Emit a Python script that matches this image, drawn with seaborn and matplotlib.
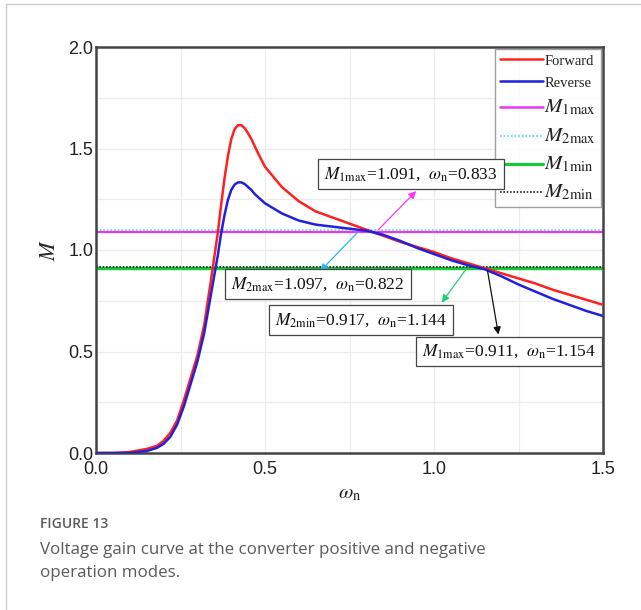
import numpy as np
import pandas as pd
import matplotlib
matplotlib.use("Agg")
import matplotlib.pyplot as plt
import seaborn as sns
from matplotlib.lines import Line2D

# ---------------- data ----------------
omega_fwd = [0.00, 0.05, 0.10, 0.15, 0.18, 0.20, 0.22, 0.24, 0.26, 0.28, 0.30, 0.32, 0.34,
             0.36, 0.37, 0.38, 0.39, 0.40, 0.41, 0.42, 0.43, 0.44, 0.45, 0.46, 0.47, 0.48,
             0.50, 0.55, 0.60, 0.65, 0.70, 0.75, 0.80, 0.85, 0.90, 0.95, 1.00, 1.05, 1.10,
             1.15, 1.20, 1.25, 1.30, 1.35, 1.40, 1.45, 1.50]
m_forward = [0.0, 0.0, 0.005, 0.02, 0.035, 0.06, 0.10, 0.16, 0.26, 0.37, 0.48, 0.63, 0.85,
             1.08, 1.22, 1.35, 1.46, 1.545, 1.595, 1.615, 1.615, 1.60, 1.575, 1.545, 1.51,
             1.475, 1.41, 1.31, 1.24, 1.19, 1.16, 1.13, 1.10, 1.07, 1.04, 1.015, 0.99, 0.96,
             0.935, 0.91, 0.885, 0.86, 0.835, 0.805, 0.78, 0.755, 0.73]
omega_rev = [0.00, 0.05, 0.10, 0.15, 0.18, 0.20, 0.22, 0.24, 0.26, 0.28, 0.30, 0.32, 0.34,
             0.36, 0.37, 0.38, 0.39, 0.40, 0.41, 0.42, 0.43, 0.44, 0.45, 0.46, 0.47, 0.48,
             0.50, 0.55, 0.60, 0.65, 0.70, 0.75, 0.80, 0.85, 0.90, 0.95, 1.00, 1.05, 1.10,
             1.15, 1.20, 1.25, 1.30, 1.35, 1.40, 1.45, 1.50]
m_reverse = [0.0, 0.0, 0.0, 0.01, 0.025, 0.045, 0.08, 0.14, 0.23, 0.34, 0.45, 0.59, 0.78,
             0.97, 1.08, 1.17, 1.245, 1.295, 1.322, 1.333, 1.333, 1.325, 1.31, 1.295, 1.275,
             1.26, 1.23, 1.18, 1.145, 1.125, 1.115, 1.105, 1.095, 1.075, 1.045, 1.01, 0.98,
             0.95, 0.925, 0.905, 0.87, 0.83, 0.795, 0.76, 0.73, 0.70, 0.675]

levels = {"M1max": 1.091, "M2max": 1.097, "M1min": 0.911, "M2min": 0.917}

ann_texts = [r"$M_{\rm 1max}$=1.091,  $\omega_{\rm n}$=0.833",
             r"$M_{\rm 2max}$=1.097,  $\omega_{\rm n}$=0.822",
             r"$M_{\rm 2min}$=0.917,  $\omega_{\rm n}$=1.144",
             r"$M_{\rm 1max}$=0.911,  $\omega_{\rm n}$=1.154"]
ann_points = [(0.83, 1.091), (0.78, 1.097), (1.10, 0.917), (1.157, 0.911)]
ann_heads = [(0.953, 1.30), (0.657, 0.885), (1.018, 0.73), (1.192, 0.57)]
ann_boxes = [(0.932, 1.374), (0.657, 0.833), (0.784, 0.655), (1.222, 0.50)]
ann_colors = ["#ff33ff", "#22bbee", "#22cc77", "#111111"]

# ---------------- style ----------------
sns.set_theme(style="white")
plt.rcParams["font.family"] = ["Liberation Sans", "DejaVu Sans"]
plt.rcParams["mathtext.fontset"] = "stix"

SERIF = ["Liberation Serif", "DejaVu Serif"]

fig = plt.figure(figsize=(6.41, 6.10), dpi=100)
ax = fig.add_axes([96/641, 1-453/610, (603-96)/641, (453-47)/610])

df_f = pd.DataFrame({"w": omega_fwd, "M": m_forward})
df_r = pd.DataFrame({"w": omega_rev, "M": m_reverse})

# grid
for v in np.arange(0.25, 1.5, 0.25):
    ax.axvline(v, color="#ececec", lw=0.9, zorder=0)
for v in np.arange(0.25, 2.0, 0.25):
    ax.axhline(v, color="#ececec", lw=0.9, zorder=0)

ax.axhline(levels["M1max"], color="#ee33ee", lw=1.6, zorder=2)
ax.axhline(levels["M2max"], color="#66dddd", lw=1.3, ls=(0, (1, 1)), zorder=2)
ax.axhline(levels["M1min"], color="#11cc33", lw=2.4, zorder=2)
ax.axhline(levels["M2min"], color="#222222", lw=1.2, ls=(0, (1, 1)), zorder=2)

sns.lineplot(data=df_f, x="w", y="M", color="#ff2020", lw=1.8, ax=ax, zorder=3)
sns.lineplot(data=df_r, x="w", y="M", color="#2020dd", lw=1.8, ax=ax, zorder=3)

ax.set_xlim(0, 1.5)
ax.set_ylim(0, 2.0)
ax.set_xticks([0.0, 0.5, 1.0, 1.5])
ax.set_yticks([0.0, 0.5, 1.0, 1.5, 2.0])
ax.set_xticklabels(["0.0", "0.5", "1.0", "1.5"])
ax.set_yticklabels(["0.0", "0.5", "1.0", "1.5", "2.0"])
ax.tick_params(axis="both", direction="in", length=5, width=1.2, colors="#444444",
               labelsize=13, labelcolor="#222222", pad=2)
ax.tick_params(axis="x", pad=6)
for s in ax.spines.values():
    s.set_color("#444444")
    s.set_linewidth(1.8)

ax.set_xlabel(r"$\omega_{\rm n}$", fontsize=15, labelpad=4)
ax.set_ylabel(r"$M$", fontsize=16, labelpad=6)

# annotations
for txt, p, h, b, c in zip(ann_texts, ann_points, ann_heads, ann_boxes, ann_colors):
    ax.annotate("", xy=h, xytext=p,
                arrowprops=dict(arrowstyle="-|>", color=c, lw=0.9, mutation_scale=11),
                zorder=5)
    ax.text(b[0], b[1], txt, ha="center", va="center", fontsize=12.5, color="#111111",
            family=SERIF,
            bbox=dict(boxstyle="square,pad=0.35", fc="white", ec="#444444", lw=0.9),
            zorder=6)

# legend
handles = [Line2D([], [], color="#ff2020", lw=1.8),
           Line2D([], [], color="#2020dd", lw=1.8),
           Line2D([], [], color="#ee33ee", lw=1.8),
           Line2D([], [], color="#66dddd", lw=1.3, ls=(0, (1, 1))),
           Line2D([], [], color="#11cc33", lw=2.2),
           Line2D([], [], color="#222222", lw=1.2, ls=(0, (1, 1)))]
labels = ["Forward", "Reverse", r"$M_{\rm 1max}$", r"$M_{\rm 2max}$",
          r"$M_{\rm 1min}$", r"$M_{\rm 2min}$"]
leg = ax.legend(handles, labels, loc="upper right", bbox_to_anchor=(1.0, 1.0),
                frameon=True, fancybox=False, edgecolor="#888888",
                prop={"family": SERIF, "size": 11},
                handlelength=2.8, handletextpad=0.1, labelspacing=0.55,
                borderpad=0.35, borderaxespad=0.1)
leg.get_frame().set_linewidth(1.0)
for i, t in enumerate(leg.get_texts()):
    t.set_color("#222222")
    if i >= 2:
        t.set_fontsize(15)
    else:
        t.set_fontsize(10.5)

# card border
fig.add_artist(Line2D([6/641, 6/641], [0, 1 - 4/610], color="#cccccc", lw=1.0,
                      transform=fig.transFigure))
fig.add_artist(Line2D([6/641, 1], [1 - 4/610, 1 - 4/610], color="#cccccc", lw=1.0,
                      transform=fig.transFigure))

# caption
fig.text(40/641, 1 - 524/610, "FIGURE 13", fontsize=10, fontweight="semibold",
         color="#5a5a5a", family=["Open Sans", "DejaVu Sans"], va="center")
fig.text(40/641, 1 - 550/610, "Voltage gain curve at the converter positive and negative",
         fontsize=12.2, color="#5a5a5a", family=["Open Sans", "DejaVu Sans"], va="center")
fig.text(40/641, 1 - 573/610, "operation modes.",
         fontsize=12.2, color="#5a5a5a", family=["Open Sans", "DejaVu Sans"], va="center")

fig.savefig("out.png", dpi=100, facecolor="white")
